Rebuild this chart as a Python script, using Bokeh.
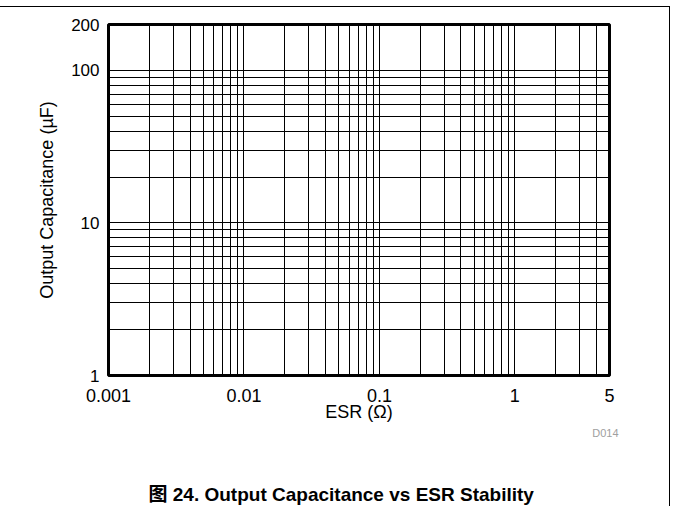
from bokeh.plotting import figure
from bokeh.models import FixedTicker, Title
from bokeh.embed import file_html
from bokeh.resources import INLINE

# ---- data ----
x_major = [0.001, 0.01, 0.1, 1, 5]
x_tick_labels = ["0.001", "0.01", "0.1", "1", "5"]
x_minor = [0.002, 0.003, 0.004, 0.005, 0.006, 0.007, 0.008, 0.009,
           0.02, 0.03, 0.04, 0.05, 0.06, 0.07, 0.08, 0.09,
           0.2, 0.3, 0.4, 0.5, 0.6, 0.7, 0.8, 0.9,
           2, 3, 4]
y_major = [1, 10, 100, 200]
y_tick_labels = ["1", "10", "100", "200"]
y_minor = [2, 3, 4, 5, 6, 7, 8, 9, 20, 30, 40, 50, 60, 70, 80, 90]
x_range = (0.001, 5)
y_range = (1, 200)
x_title = "ESR (\u03a9)"
y_title = "Output Capacitance (\u00b5F)"
caption = "\u56fe 24. Output Capacitance vs ESR Stability"
code = "D014"

FONT = "Liberation Sans"
W, H = 670, 500
FL, FR, FT, FB = 108, 609, 17, 368  # frame edges in canvas px

p = figure(width=W, height=H, x_axis_type="log", y_axis_type="log",
           x_range=x_range, y_range=y_range,
           output_backend="svg", toolbar_location=None,
           min_border_left=FL, min_border_right=W - FR,
           min_border_top=FT, min_border_bottom=H - FB)
p.margin = (6, 0, 0, 0)
p.styles = {"border-top": "1.5px solid black", "border-right": "1.5px solid black"}

p.xaxis.ticker = FixedTicker(ticks=x_major, minor_ticks=x_minor)
p.yaxis.ticker = FixedTicker(ticks=y_major, minor_ticks=y_minor)
p.xaxis.major_label_overrides = dict(zip(x_major, x_tick_labels))
p.yaxis.major_label_overrides = dict(zip(y_major, y_tick_labels))

for ax in (p.xaxis[0], p.yaxis[0]):
    ax.axis_line_color = None
    ax.major_tick_line_color = None
    ax.minor_tick_line_color = None
    ax.major_tick_out = 0
    ax.major_tick_in = 0
    ax.minor_tick_out = 0
    ax.major_label_text_font = FONT
    ax.major_label_text_color = "black"
    ax.axis_label_text_font = FONT
    ax.axis_label_text_font_size = "18px"
    ax.axis_label_text_font_style = "normal"
    ax.axis_label_text_color = "black"
p.xaxis.major_label_text_font_size = "18px"
p.yaxis.major_label_text_font_size = "17px"

p.xaxis.axis_label = x_title
p.yaxis.axis_label = y_title
p.xaxis.major_label_standoff = 13
p.xaxis.axis_label_standoff = -3
p.yaxis.major_label_standoff = 9
p.yaxis.axis_label_standoff = 11

for g in (p.xgrid[0], p.ygrid[0]):
    g.grid_line_color = "black"
    g.grid_line_width = 1
    g.minor_grid_line_color = "black"
    g.minor_grid_line_width = 1

p.outline_line_color = "black"
p.outline_line_width = 3
p.background_fill_color = "white"
p.border_fill_color = "white"

# figure code, spacer and caption below the x axis
p.add_layout(Title(text=code, align="right", offset=-9, standoff=0,
                   text_font=FONT, text_font_size="11px", text_font_style="normal",
                   text_color="#a0a0a0"), "below")
p.add_layout(Title(text=" ", align="left", standoff=40,
                   text_font=FONT, text_font_size="1px"), "below")
p.add_layout(Title(text=caption, align="left", offset=40, standoff=0,
                   text_font=FONT + ", 'Noto Sans CJK SC'", text_font_size="19px",
                   text_font_style="bold", text_color="black"), "below")

open("out.html", "w").write(file_html(p, INLINE))
